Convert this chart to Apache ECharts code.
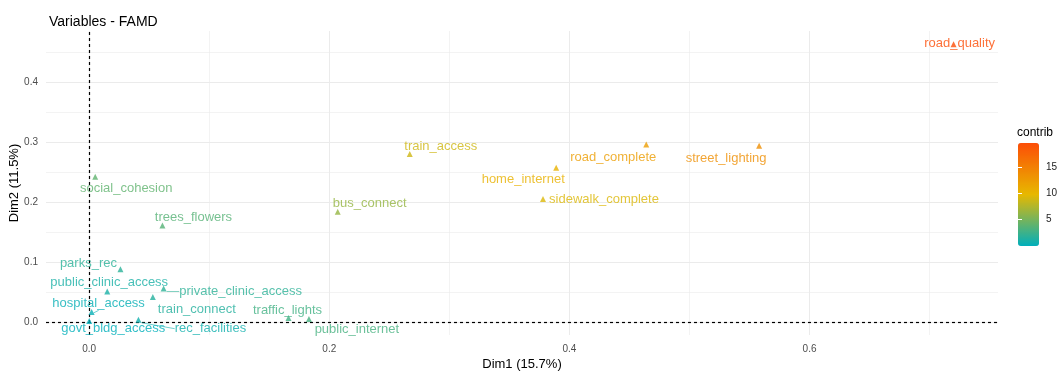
<!DOCTYPE html>
<html>
<head>
<meta charset="utf-8">
<script src="https://cdn.jsdelivr.net/npm/echarts@6/dist/echarts.min.js"></script>
<style>
  html, body { margin: 0; padding: 0; background: #fff; }
  #chart { width: 1064px; height: 375px; }
</style>
</head>
<body>
<div id="chart"></div>
<script>
// FAMD variable map: coordinates on Dim1/Dim2 and contribution per variable
const variables = ['road_quality', 'street_lighting', 'road_complete', 'home_internet',
  'sidewalk_complete', 'train_access', 'bus_connect', 'social_cohesion', 'trees_flowers',
  'parks_rec', 'public_clinic_access', 'private_clinic_access', 'train_connect',
  'hospital_access', 'govt_bldg_access', 'rec_facilities', 'traffic_lights', 'public_internet'];
const dim1 = [0.720, 0.558, 0.464, 0.389, 0.378, 0.267, 0.207, 0.005, 0.061,
  0.026, 0.015, 0.062, 0.053, 0.002, 0.000, 0.041, 0.166, 0.183];
const dim2 = [0.464, 0.295, 0.297, 0.258, 0.206, 0.281, 0.185, 0.243, 0.162,
  0.089, 0.052, 0.057, 0.043, 0.018, 0.003, 0.005, 0.008, 0.006];
const contrib = [19.5, 13.6, 12.1, 10.3, 9.3, 8.7, 6.3, 4.0, 3.6,
  1.8, 1.1, 1.9, 1.5, 0.3, 0.05, 0.7, 2.8, 3.0];

const xMajor = [0, 0.2, 0.4, 0.6];
const xMinor = [0.1, 0.3, 0.5, 0.7];
const yMajor = [0, 0.1, 0.2, 0.3, 0.4];
const yMinor = [0.05, 0.15, 0.25, 0.35, 0.45];
const contribTicks = [5, 10, 15];
const contribRange = [0, 19.5];

// repelled label placement (pixel shift of each label from its point)
const labelShift = {
  road_quality: [6, -1], street_lighting: [-33, 13], road_complete: [-33, 13],
  home_internet: [-33, 12], sidewalk_complete: [61, 0], train_access: [31, -8],
  bus_connect: [32, -8], social_cohesion: [31, 12], trees_flowers: [31, -8],
  parks_rec: [-32, -6], public_clinic_access: [2, -9], private_clinic_access: [77, 3],
  train_connect: [44, 13], hospital_access: [7, -8], govt_bldg_access: [24, 8],
  rec_facilities: [72, 9], traffic_lights: [-1, -7], public_internet: [48, 10]
};
const withSegment = ['private_clinic_access', 'hospital_access', 'rec_facilities'];

const FONT = '"Liberation Sans", Arial, sans-serif';
const GRID_COLOR = '#EBEBEB';

const points = variables.map((name, i) => {
  const item = { name: name, value: [dim1[i], dim2[i], contrib[i]] };
  if (withSegment.includes(name)) {
    item.labelLine = { show: true, lineStyle: { width: 0.6 } };
  }
  return item;
});

const solid = (w, c) => ({ type: 'solid', width: w, color: c });
const gridLines = []
  .concat(xMajor.map(v => ({ xAxis: v, lineStyle: solid(1, GRID_COLOR) })))
  .concat(xMinor.map(v => ({ xAxis: v, lineStyle: solid(0.6, GRID_COLOR) })))
  .concat(yMajor.map(v => ({ yAxis: v, lineStyle: solid(1, GRID_COLOR) })))
  .concat(yMinor.map(v => ({ yAxis: v, lineStyle: solid(0.6, GRID_COLOR) })));
const zeroLine = { type: [3, 3], width: 1.2, color: '#000' };

const chart = echarts.init(document.getElementById('chart'), null, { renderer: 'canvas' });

chart.setOption({
  backgroundColor: '#ffffff',
  animation: false,
  textStyle: { fontFamily: FONT },
  title: {
    text: 'Variables - FAMD',
    left: 44, top: 10,
    textStyle: { fontSize: 14, fontWeight: 'normal', color: '#000', fontFamily: FONT }
  },
  graphic: [{
    type: 'text', left: 1017, top: 127,
    style: { text: 'contrib', fontSize: 12, fill: '#000', fontFamily: FONT }
  }],
  grid: [
    { left: 46, right: 66, top: 31, bottom: 40, outerBoundsMode: 'none', containLabel: false },
    { left: 1018, top: 143, width: 21, height: 103, outerBoundsMode: 'none', containLabel: false }
  ],
  xAxis: [{
    type: 'value', gridIndex: 0, min: -0.036, max: 0.757,
    name: 'Dim1 (15.7%)', nameLocation: 'middle', nameGap: 23, nameMoveOverlap: false,
    nameTextStyle: { fontSize: 13, color: '#000', fontFamily: FONT },
    axisLine: { show: false },
    axisTick: { show: true, length: 4, customValues: xMajor, lineStyle: { color: '#333' } },
    axisLabel: { customValues: xMajor, fontSize: 10, color: '#4D4D4D', margin: 9,
      formatter: v => v.toFixed(1) },
    splitLine: { show: false }
  }, {
    type: 'value', gridIndex: 1, min: 0, max: 1, show: false
  }],
  yAxis: [{
    type: 'value', gridIndex: 0, min: -0.0205, max: 0.486,
    name: 'Dim2 (11.5%)', nameLocation: 'middle', nameGap: 25, nameMoveOverlap: false,
    nameTextStyle: { fontSize: 13, color: '#000', fontFamily: FONT },
    axisLine: { show: false },
    axisTick: { show: true, length: 4, customValues: yMajor, lineStyle: { color: '#333' } },
    axisLabel: { customValues: yMajor, fontSize: 10, color: '#4D4D4D', margin: 8,
      formatter: v => v.toFixed(1) },
    splitLine: { show: false }
  }, {
    type: 'value', gridIndex: 1, position: 'right', min: contribRange[0], max: contribRange[1], z: 10,
    axisLine: { show: false },
    axisTick: { show: true, inside: true, length: 4, customValues: contribTicks,
      lineStyle: { color: '#fff', width: 1 } },
    axisLabel: { customValues: contribTicks, fontSize: 10, color: '#222', margin: 7 },
    splitLine: { show: false }
  }, {
    type: 'value', gridIndex: 1, position: 'left', min: contribRange[0], max: contribRange[1], z: 10,
    axisLine: { show: false },
    axisTick: { show: true, inside: true, length: 4, customValues: contribTicks,
      lineStyle: { color: '#fff', width: 1 } },
    axisLabel: { show: false },
    splitLine: { show: false }
  }],
  visualMap: {
    type: 'continuous', seriesIndex: 0, dimension: 2,
    min: contribRange[0], max: contribRange[1],
    left: 1018, top: 143, itemWidth: 21, itemHeight: 103, padding: 0,
    text: null, calculable: false, z: 1,
    inRange: { color: ['#00AFBB', '#E7B800', '#FC4E07'] }
  },
  series: [{
    type: 'scatter', xAxisIndex: 0, yAxisIndex: 0, z: 5,
    symbol: 'triangle', symbolSize: 6,
    data: points,
    label: {
      show: true, position: 'inside', color: 'inherit',
      formatter: p => p.name, fontSize: 13, fontFamily: FONT
    },
    labelLine: { show: false },
    labelLayout: params => {
      const s = labelShift[variables[params.dataIndex]];
      return { dx: s[0], dy: s[1] };
    }
  }, {
    type: 'line', xAxisIndex: 0, yAxisIndex: 0, z: 0, data: [],
    markLine: {
      silent: true, symbol: 'none', label: { show: false },
      data: gridLines.concat([
        { xAxis: 0, lineStyle: zeroLine },
        { yAxis: 0, lineStyle: zeroLine }
      ])
    }
  }, {
    type: 'line', xAxisIndex: 1, yAxisIndex: 1, data: []
  }]
});
</script>
</body>
</html>
